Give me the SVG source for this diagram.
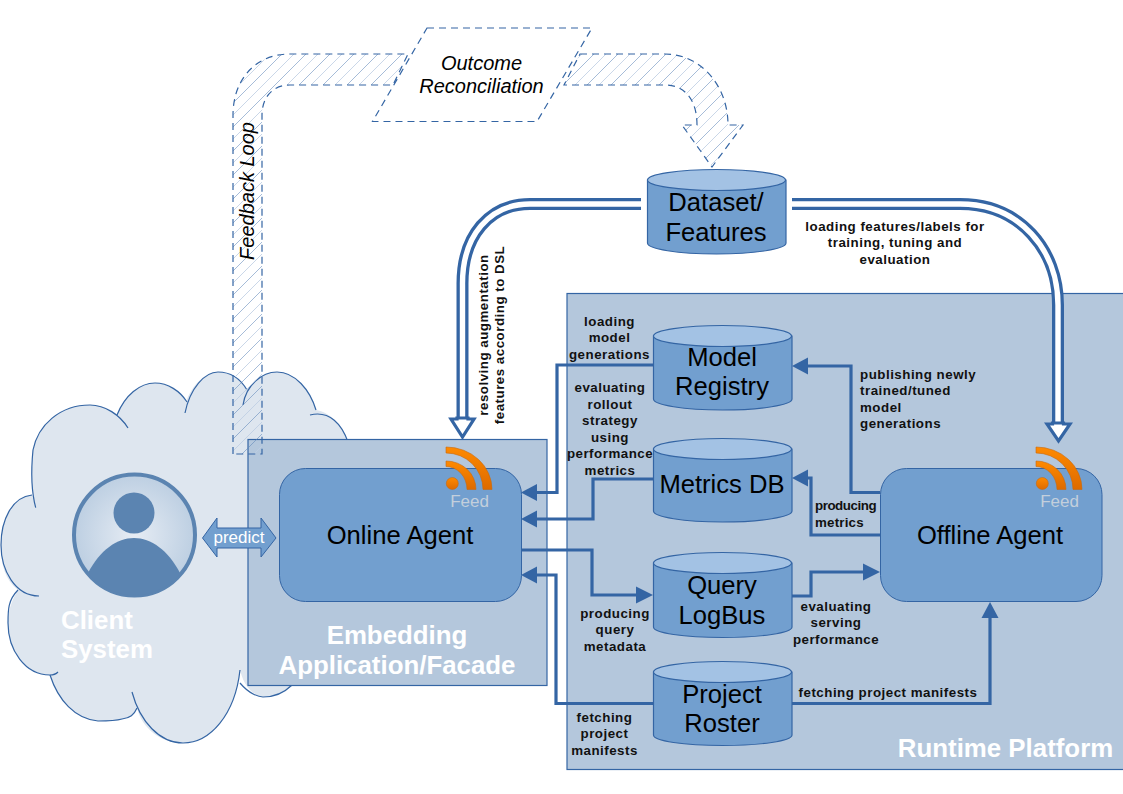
<svg xmlns="http://www.w3.org/2000/svg" xmlns:xlink="http://www.w3.org/1999/xlink" width="1123" height="794" viewBox="0 0 1123 794">
<style>
text{font-family:"Liberation Sans",Arial,sans-serif;text-anchor:middle}
.box{fill:#b4c7dc;stroke:#3465a4;stroke-width:1.2}
.agent{fill:#729fcf;stroke:#3465a4;stroke-width:1}
.cyl{fill:#729fcf;stroke:#3465a4;stroke-width:1.2}
.cyltop{fill:#a3c2e4;stroke:#3465a4;stroke-width:1.2}
.name{font-size:25.6px;fill:#000}
.big{font-size:25.85px;font-weight:700;fill:#fff}
.lab{font-size:13.33px;font-weight:700;fill:#111;letter-spacing:.5px}
.it{font-size:20px;font-style:italic;fill:#000}
.feed{font-size:17px;fill:#c3cfdc}
.conn{fill:none;stroke:#3465a4;stroke-width:3.2}
.head{fill:#3465a4}
.dbl1{fill:none;stroke:#3465a4;stroke-width:12}
.dbl2{fill:none;stroke:#fff;stroke-width:5.4}
.dblh{fill:#fff;stroke:#3465a4;stroke-width:3.2}
.dash{fill:url(#hatch);stroke:#3465a4;stroke-width:1.2;stroke-dasharray:7 5}
.cloudline{fill:none;stroke:#3465a4;stroke-width:1.2}
</style>
<defs>
<pattern id="hatch" patternUnits="userSpaceOnUse" width="24" height="24">
<path d="M-2,26 L26,-2 M-2,2 L2,-2 M22,26 L26,22" stroke="#5b84b8" stroke-width=".55" fill="none"/>
<path d="M-2,14 L14,-2 M10,26 L26,10" stroke="#bccde2" stroke-width=".8" fill="none"/>
</pattern>
<linearGradient id="org" x1="0" y1="0" x2="0" y2="1">
<stop offset="0" stop-color="#ff8a00"/><stop offset="1" stop-color="#dd6a00"/>
</linearGradient>
<radialGradient id="face" cx=".5" cy=".5" r=".5">
<stop offset="0" stop-color="#e6ecf4"/><stop offset="1" stop-color="#bdcfe2"/>
</radialGradient>
<clipPath id="faceclip"><circle cx="134.5" cy="535" r="60"/></clipPath>
<g id="rss">
<path d="M446,447 A46,42.5 0 0 1 492,489.5 H483 A37,36.5 0 0 0 446,453 Z" fill="url(#org)" stroke="#c86a10" stroke-width=".6"/>
<path d="M446,461 A30,28.5 0 0 1 476,489.5 H467 A21,23 0 0 0 446,466.5 Z" fill="url(#org)" stroke="#c86a10" stroke-width=".6"/>
<circle cx="452.3" cy="483.5" r="6" fill="url(#org)" stroke="#c86a10" stroke-width=".6"/>
</g>
</defs>
<rect width="1123" height="794" fill="#fff"/>

<g id="client-system">
<path d="M35.700,507.700 C31,490 31,470 33,450 C38,425 60,405 90,405 C100,405 110,408 117,415 C125,395 140,383 155,383 C168,383 180,391 186,402 C192,385 205,372 218,372 C230,372 240,378 247,390 C255,378 265,372 277,372 C295,372 310,390 316,410 C330,412 342,425 348,442 L300,680 C285,692 275,697 263,697 C255,695 245,690 240,670 C235,715 210,743 183,743 C160,743 142,728 137,708 C134,715 130,718 122,719 C110,721 105,721 98,721 C75,719 58,700 50,675 C25,675 8,650 8,623 C8,610 12,600 18,590 C5,580 1,565 1,545 C1,520 12,497 32,495 Z" fill="#dee6ef"/>
<path class="cloudline" d="M35.7,507.7 C31,490 31,470 33,450 C38,425 60,405 90,405 C105,405 120,415 128,428"/>
<path class="cloudline" d="M117,415 C125,395 140,383 155,383 C168,383 180,391 187,402"/>
<path class="cloudline" d="M185,413 C190,388 205,372 218,372 C230,372 240,378 247,390"/>
<path class="cloudline" d="M243,405 C246,385 262,372 277,372 C295,372 310,390 316,410"/>
<path class="cloudline" d="M310,415 C330,410 342,425 348,442"/>
<path class="cloudline" d="M32,495 C12,497 1,520 1,545 C1,570 15,596 39,596"/>
<path class="cloudline" d="M18,590 C8,600 8,610 8,623 C8,650 25,675 50,675 C53,675 56,674 58,672"/>
<path class="cloudline" d="M50,675 C58,700 75,719 98,721 C105,721 115,721 122,719 C130,718 134,715 137,708"/>
<path class="cloudline" d="M132,692 C140,722 160,743 183,743 C210,743 235,715 240,670"/>
<path class="cloudline" d="M240,683 C250,695 260,697 263,697 C275,697 285,692 292,685"/>
</g>

<g id="actor">
<circle cx="134.5" cy="535" r="60.5" fill="url(#face)" stroke="#5b84b1" stroke-width="4"/>
<g clip-path="url(#faceclip)">
<path d="M88,573 C100,550 117,538 134,538 C151,538 168,550 180,573 L190,610 H80 Z" fill="#5b84b1"/>
</g>
<circle cx="134" cy="513" r="20.5" fill="#5b84b1"/>
</g>
<text class="big" x="61" y="629" style="text-anchor:start">Client</text>
<text class="big" x="61" y="658" style="text-anchor:start">System</text>

<g id="embedding-facade">
<rect class="box" x="248" y="439.500" width="299" height="246"/>
<text class="big"><tspan x="397" y="644">Embedding</tspan><tspan x="397" y="674">Application/Facade</tspan></text>
</g>

<g id="runtime-platform">
<rect class="box" x="567" y="293.500" width="560" height="476"/>
<text class="big" x="1005.500" y="757">Runtime Platform</text>
</g>

<g id="feedback-loop">
<path class="dash" d="M233,454 V115 C233,80 255,54 290,54 H408 L393,85 H290 C272,85 262,98 262,115 V454 Z"/>
<text class="it" transform="translate(254,191) rotate(-90)">Feedback Loop</text>
</g>

<g id="outcome-arrow">
<path class="dash" d="M580,54 H665 C700,54 728,85 728,125 H743 L712,167 L682,125 H697 C697,100 685,85 665,85 H564 Z"/>
</g>

<g id="outcome-reconciliation">
<path d="M427,28 H592 L537,121.500 H372.500 Z" fill="none" stroke="#3465a4" stroke-width="1.200" stroke-dasharray="7 5"/>
<text class="it"><tspan x="481.500" y="70">Outcome</tspan><tspan x="481.500" y="93">Reconciliation</tspan></text>
</g>

<g id="connectors">
<path class="dbl1" d="M641,204 H530 C490,204 462,235 462.500,285 V420"/>
<path class="dbl2" d="M641,204 H530 C490,204 462,235 462.500,285 V423"/>
<path class="dblh" d="M451,419 H457 V418 H468 V419 H474 L462.500,437 Z"/>
<path class="dbl1" d="M792,204 H960 C1020,204 1058,250 1058,305 V425"/>
<path class="dbl2" d="M792,204 H960 C1020,204 1058,250 1058,305 V428"/>
<path class="dblh" d="M1047,424 H1052.500 V423 H1063.500 V424 H1070 L1058.500,441 Z"/>
<path class="conn" d="M653,365 H557 V492.500 H535"/><path class="head" d="M521,492.500 L537,484 V501 Z"/>
<path class="conn" d="M653,479 H593 V519 H535"/><path class="head" d="M521,519 L537,510.500 V527.500 Z"/>
<path class="conn" d="M521,550 H592 V595 H640"/><path class="head" d="M653,595 L636,586.500 V603.500 Z"/>
<path class="conn" d="M653,703.500 H556 V575 H535"/><path class="head" d="M521,575 L537,566.500 V583.500 Z"/>
<path class="conn" d="M880,492.500 H851 V366 H805"/><path class="head" d="M792,366 L808,357.500 V374.500 Z"/>
<path class="conn" d="M880,535 H811 V478 H805"/><path class="head" d="M792,478 L808,469.500 V486.500 Z"/>
<path class="conn" d="M792,596 H811 V572 H868"/><path class="head" d="M880,572 L863,563.500 V580.500 Z"/>
<path class="conn" d="M792,703.500 H990 V615"/><path class="head" d="M990,602 L981.500,618 H998.500 Z"/>
</g>

<g id="predict">
<path d="M202.500,538 L217,518 V528 H261 V518 L276,538 L261,557 V548 H217 V557 Z" fill="#729fcf" stroke="#3465a4" stroke-width="1"/>
<text x="239" y="543" style="font-size:17px;fill:#fff">predict</text>
</g>

<g id="online-agent">
<rect class="agent" x="279.500" y="468.500" width="242" height="133" rx="26"/>
<text class="name" x="400" y="543.500">Online Agent</text>
<use href="#rss"/>
<text class="feed" x="469.500" y="507">Feed</text>
</g>

<g id="offline-agent">
<rect class="agent" x="880.500" y="468.500" width="221.500" height="133" rx="26"/>
<text class="name" x="990" y="543.500">Offline Agent</text>
<use href="#rss" x="590"/>
<text class="feed" x="1059.500" y="507">Feed</text>
</g>

<g id="dataset">
<path class="cyl" d="M647.500,180 V243 C647.500,249 678,254 716.500,254 C755,254 786,249 786,243 V180 Z"/>
<ellipse class="cyltop" cx="716.500" cy="180" rx="69" ry="10.500"/>
<text class="name"><tspan x="716" y="211">Dataset/</tspan><tspan x="716" y="241">Features</tspan></text>
</g>
<g id="model-registry">
<path class="cyl" d="M653.500,336 V399 C653.500,405 684,410 722.500,410 C761,410 792,405 792,399 V336 Z"/>
<ellipse class="cyltop" cx="722.500" cy="336" rx="69" ry="10.500"/>
<text class="name"><tspan x="722" y="365.500">Model</tspan><tspan x="722" y="395">Registry</tspan></text>
</g>
<g id="metrics-db">
<path class="cyl" d="M653.500,449 V511 C653.500,517 684,522 722.500,522 C761,522 792,517 792,511 V449 Z"/>
<ellipse class="cyltop" cx="722.500" cy="449" rx="69" ry="10.500"/>
<text class="name" x="722" y="493">Metrics DB</text>
</g>
<g id="query-logbus">
<path class="cyl" d="M653.500,563 V627 C653.500,633 684,637.500 722.500,637.500 C761,637.500 792,633 792,627 V563 Z"/>
<ellipse class="cyltop" cx="722.500" cy="563" rx="69" ry="10.500"/>
<text class="name"><tspan x="722" y="593.500">Query</tspan><tspan x="722" y="624">LogBus</tspan></text>
</g>
<g id="project-roster">
<path class="cyl" d="M653.500,672 V735 C653.500,741 684,745.500 722.500,745.500 C761,745.500 792,741 792,735 V672 Z"/>
<ellipse class="cyltop" cx="722.500" cy="672" rx="69" ry="10.500"/>
<text class="name"><tspan x="722" y="702.500">Project</tspan><tspan x="722" y="732">Roster</tspan></text>
</g>

<g id="labels">
<text class="lab" transform="translate(488,335) rotate(-90)">resolving augmentation</text>
<text class="lab" transform="translate(504,335) rotate(-90)">features according to DSL</text>
<text class="lab"><tspan x="895" y="230.500">loading features/labels for</tspan><tspan x="895" y="246.500">training, tuning and</tspan><tspan x="895" y="263.500">evaluation</tspan></text>
<text class="lab"><tspan x="609.500" y="325.500">loading</tspan><tspan x="609.500" y="341.500">model</tspan><tspan x="609.500" y="358.500">generations</tspan></text>
<text class="lab"><tspan x="610" y="391.500">evaluating</tspan><tspan x="610" y="408.500">rollout</tspan><tspan x="610" y="424.500">strategy</tspan><tspan x="610" y="441.500">using</tspan><tspan x="610" y="458">performance</tspan><tspan x="610" y="474.500">metrics</tspan></text>
<text class="lab" style="text-anchor:start"><tspan x="860" y="378.500">publishing newly</tspan><tspan x="860" y="394.500">trained/tuned</tspan><tspan x="860" y="411.500">model</tspan><tspan x="860" y="427.500">generations</tspan></text>
<text class="lab" style="text-anchor:start;letter-spacing:-.45px"><tspan x="815" y="510">producing</tspan><tspan x="815" y="527" style="letter-spacing:.2px">metrics</tspan></text>
<text class="lab"><tspan x="836" y="610.500">evaluating</tspan><tspan x="836" y="626.500">serving</tspan><tspan x="836" y="643.500">performance</tspan></text>
<text class="lab" x="888" y="696.500">fetching project manifests</text>
<text class="lab"><tspan x="615" y="617.500">producing</tspan><tspan x="615" y="633.500">query</tspan><tspan x="615" y="650.500">metadata</tspan></text>
<text class="lab"><tspan x="604.500" y="721.500">fetching</tspan><tspan x="604.500" y="737.500">project</tspan><tspan x="604.500" y="754.500">manifests</tspan></text>
</g>
</svg>
